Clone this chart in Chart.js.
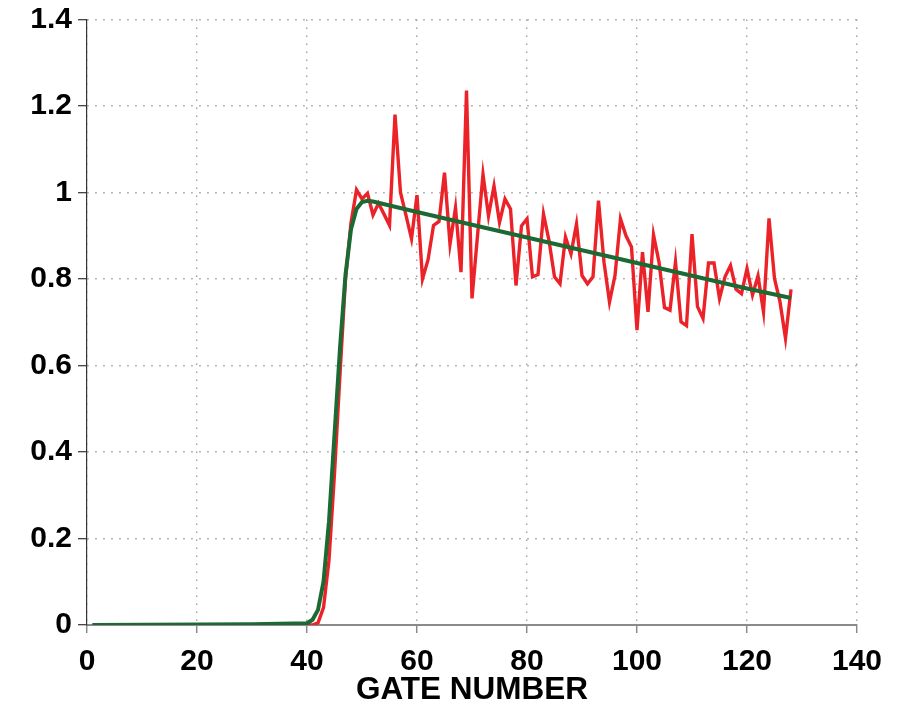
<!DOCTYPE html>
<html>
<head>
<meta charset="utf-8">
<script src="https://cdn.jsdelivr.net/npm/chart.js@4.4.1/dist/chart.umd.min.js"></script>
<style>
  html, body { margin: 0; padding: 0; background: #fff; }
  #wrap { width: 909px; height: 704px; }
</style>
</head>
<body>
<div id="wrap"><canvas id="gateChart" width="909" height="704"></canvas></div>
<script>
// measured profile, one value per gate (1..128)
const measured = [
  0, 0, 0, 0, 0, 0, 0, 0, 0, 0,
  0, 0, 0, 0, 0, 0, 0, 0, 0, 0,
  0, 0, 0, 0, 0, 0, 0, 0, 0, 0,
  0, 0, 0, 0, 0, 0, 0, 0, 0, 0,
  0, 0.005, 0.04, 0.15, 0.35, 0.58, 0.8, 0.93, 1.006, 0.985,
  0.998, 0.948, 0.975, 0.95, 0.924, 1.18, 1.0, 0.947, 0.893, 0.994,
  0.8, 0.844, 0.924, 0.933, 1.046, 0.881, 0.965, 0.816, 1.236, 0.755,
  0.9, 1.042, 0.946, 1.015, 0.931, 0.985, 0.962, 0.785, 0.923, 0.939,
  0.805, 0.81, 0.95, 0.889, 0.805, 0.789, 0.897, 0.858, 0.927, 0.808,
  0.789, 0.805, 0.981, 0.839, 0.747, 0.808, 0.939, 0.9, 0.874, 0.682,
  0.862, 0.724, 0.902, 0.839, 0.734, 0.728, 0.839, 0.701, 0.692, 0.904,
  0.736, 0.709, 0.837, 0.837, 0.755, 0.805, 0.831, 0.776, 0.766, 0.824,
  0.763, 0.807, 0.724, 0.94, 0.801, 0.747, 0.663, 0.776
];

// fitted curve, sampled at these gates
const fitGates = [1, 30, 40, 41, 42, 43, 44, 45, 46, 47, 48, 49, 50, 51, 52, 60, 80, 100, 120, 128];
const fitValues = [0, 0.002, 0.004, 0.012, 0.035, 0.1, 0.24, 0.44, 0.64, 0.81, 0.915, 0.962, 0.978, 0.981, 0.979, 0.955, 0.896, 0.837, 0.778, 0.756];

const xTicks = [0, 20, 40, 60, 80, 100, 120, 140];
const yTicks = [0, 0.2, 0.4, 0.6, 0.8, 1, 1.2, 1.4];

const measuredPts = measured.map((v, i) => ({ x: i + 1, y: v }));
const fitPts = fitGates.map((g, i) => ({ x: g, y: fitValues[i] }));

const fam = "'Liberation Sans', Arial, Helvetica, sans-serif";
const labelFont = { family: fam, size: 30, weight: "bold" };

new Chart(document.getElementById("gateChart"), {
  type: "line",
  data: {
    datasets: [
      {
        label: "fit",
        data: fitPts,
        borderColor: "#1c6a33",
        borderWidth: 4,
        pointRadius: 0,
        tension: 0,
        order: 0,
      },
      {
        label: "measured",
        data: measuredPts,
        borderColor: "#ec2229",
        borderWidth: 3.4,
        pointRadius: 0,
        tension: 0,
        order: 1,
      },
    ],
  },
  options: {
    responsive: false,
    animation: false,
    devicePixelRatio: 1,
    layout: { padding: { left: 0, top: 17, right: 52, bottom: 0 } },
    plugins: {
      legend: { display: false },
      tooltip: { enabled: false },
    },
    scales: {
      x: {
        type: "linear",
        min: 0,
        max: 140,
        afterBuildTicks: (s) => { s.ticks = xTicks.map((v) => ({ value: v })); },
        afterFit: (s) => { s.height = 79; },
        border: { color: "#8a8a8a", width: 2, dash: [1.5, 6.5] },
        grid: {
          color: "#a0a0a0",
          lineWidth: 1.4,
          drawTicks: true,
          tickLength: 8,
          tickColor: "#8a8a8a",
          tickWidth: 1.5,
          tickBorderDash: [],
        },
        ticks: { color: "#000", font: labelFont, padding: 11, maxRotation: 0 },
        title: {
          display: true,
          text: "GATE NUMBER",
          color: "#000",
          font: { family: fam, size: 31.5, weight: "bold", lineHeight: 1 },
          padding: { top: 0, bottom: -2 },
        },
      },
      y: {
        type: "linear",
        min: 0,
        max: 1.4,
        afterBuildTicks: (s) => { s.ticks = yTicks.map((v) => ({ value: v })); },
        afterFit: (s) => { s.width = 87; },
        border: { color: "#333", width: 1.2, dash: [1.5, 6.5] },
        grid: {
          color: "#a0a0a0",
          lineWidth: 1.4,
          drawTicks: true,
          tickLength: 9,
          tickColor: "#333",
          tickWidth: 1.2,
          tickBorderDash: [],
        },
        ticks: {
          color: "#000",
          font: { family: fam, size: 30, weight: "bold", lineHeight: 0.9 },
          padding: 6,
          callback: (v) => String(Math.round(v * 10) / 10),
        },
      },
    },
  },
});
</script>
</body>
</html>
